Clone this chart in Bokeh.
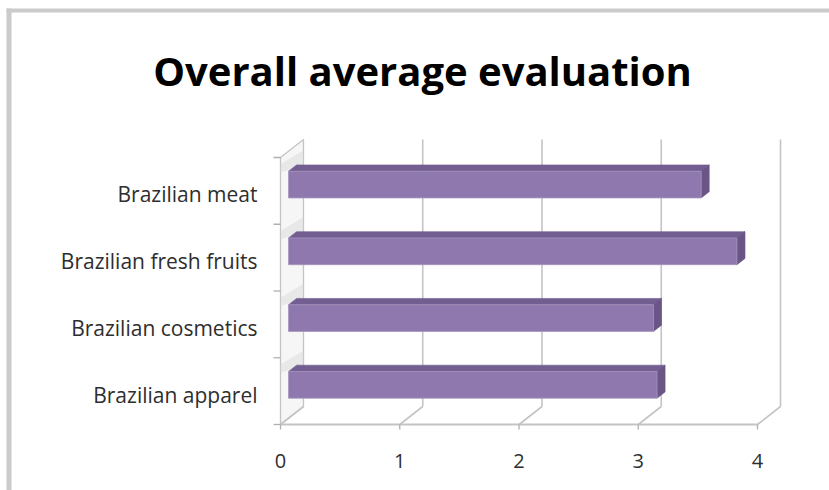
from bokeh.plotting import figure
from bokeh.models import Range1d, ColumnDataSource
from bokeh.embed import file_html
from bokeh.resources import INLINE
from bokeh.core.properties import value

# ---------------- data ----------------
categories = ["Brazilian apparel", "Brazilian cosmetics", "Brazilian fresh fruits", "Brazilian meat"]
values = [3.09, 3.06, 3.76, 3.46]
x_ticks = [0, 1, 2, 3, 4]
x_tick_labels = ["0", "1", "2", "3", "4"]
title_text = "Overall average evaluation"

# ---------------- geometry ----------------
W, H = 829, 490
X0_PX, UX = 280.0, 119.25     # pixel of value 0 on front plane, pixels per unit
Y0_PX, UY = 424.0, 66.75      # pixel of floor on front plane, pixels per category
OX, OY = 23.0 / UX, 18.0 / UY  # oblique depth offset in data units
D0, D1 = 0.35, 0.70            # bar depth (fraction of full depth)
HALF = 0.2                     # half bar thickness (category units)
N = len(categories)
XMAX = x_ticks[-1]

p = figure(width=W, height=H, output_backend="svg", toolbar_location=None,
           x_range=Range1d(-X0_PX / UX, (W - X0_PX) / UX),
           y_range=Range1d(-(H - Y0_PX) / UY, Y0_PX / UY),
           min_border=0, min_border_left=0, min_border_right=0,
           min_border_top=0, min_border_bottom=0)
p.xaxis.visible = False
p.yaxis.visible = False
p.grid.visible = False
p.outline_line_color = None
p.background_fill_color = "white"
p.border_fill_color = "white"

def px_x(px):
    return (px - X0_PX) / UX

def px_y(py):
    return (Y0_PX - py) / UY

# ---------------- outer chart border (top and left visible) ----------------
p.quad(left=[px_x(6)], right=[px_x(W + 5)], bottom=[px_y(12)], top=[px_y(8)],
       fill_color="#cbcbcb", line_color=None)
p.quad(left=[px_x(6)], right=[px_x(11)], bottom=[px_y(H + 5)], top=[px_y(8)],
       fill_color="#cbcbcb", line_color=None)

grid_col = "#c4c4c4"

# ---------------- left wall ----------------
p.patch([0, OX, OX, 0], [0, OY, N + OY, N], fill_color="#f6f6f6",
        line_color=grid_col, line_width=1.3)

# ---------------- back wall gridlines ----------------
gx = [t + OX for t in x_ticks[1:]]
p.segment(x0=gx, y0=[OY] * len(gx), x1=gx, y1=[N + OY] * len(gx),
          line_color=grid_col, line_width=1.6)

# ---------------- floor ----------------
p.segment(x0=x_ticks, y0=[0] * len(x_ticks),
          x1=[t + OX for t in x_ticks], y1=[OY] * len(x_ticks),
          line_color=grid_col, line_width=1.6)
p.segment(x0=[0], y0=[0], x1=[XMAX], y1=[0], line_color=grid_col, line_width=1.8)

# ticks below floor
p.segment(x0=x_ticks, y0=[0] * len(x_ticks), x1=x_ticks,
          y1=[-5.0 / UY] * len(x_ticks), line_color="#b0b0b0", line_width=1.3)
# ticks on left wall
bounds = list(range(N + 1))
p.segment(x0=[-7.0 / UX] * len(bounds), y0=bounds, x1=[0] * len(bounds), y1=bounds,
          line_color="#b0b0b0", line_width=1.3)

# ---------------- shadows on the left wall ----------------
for i in range(N):
    c = i + 0.5
    t = c + HALF
    p.patch([0, OX, OX, 0],
            [t + D0 * OY - 0.02, t + D1 * OY, t + D1 * OY + 0.22, t + 0.2],
            fill_color="#d8d8d8", fill_alpha=0.45, line_color=None)

# ---------------- bars ----------------
dd = (D1 - D0) * OY
front = dict(left=[], right=[], bottom=[], top=[])
top_xs, top_ys, side_xs, side_ys = [], [], [], []
for i, v in enumerate(values):
    c = i + 0.5
    b0 = c - HALF + D0 * OY
    t0 = c + HALF + D0 * OY
    l0 = D0 * OX
    r0 = v + D0 * OX
    r1 = v + D1 * OX
    front["left"].append(l0)
    front["right"].append(r0)
    front["bottom"].append(b0)
    front["top"].append(t0)
    top_xs.append([l0, r0, r1, D1 * OX])
    top_ys.append([t0, t0, t0 + dd, t0 + dd])
    side_xs.append([r0, r1, r1, r0])
    side_ys.append([b0, b0 + dd, t0 + dd, t0])

p.patches(top_xs, top_ys, fill_color="#735e92", line_color="#6f5a8e", line_width=0.6)
p.patches(side_xs, side_ys, fill_color="#6a5587", line_color="#655083", line_width=0.6)
p.quad(source=ColumnDataSource(front), left="left", right="right", bottom="bottom", top="top",
       fill_color="#8f78ae", line_color="#a493bf", line_width=0.8)

# ---------------- texts ----------------
# category labels
p.text(x=[-OX] * N, y=[i + 0.5 - 3.5 / UY for i in range(N)], text=categories,
       text_font=value("Open Sans"), text_font_size="21px", text_color="#2e2e2e",
       text_align="right", text_baseline="alphabetic")
# value tick labels
p.text(x=x_ticks, y=[-36.0 / UY] * len(x_ticks), text=x_tick_labels,
       text_font=value("Open Sans"), text_font_size="20px", text_color="#2e2e2e",
       text_align="center", text_baseline="alphabetic")
# title
p.text(x=[px_x(422)], y=[px_y(70)], text=[title_text],
       text_font=value("Open Sans"), text_font_style="bold", text_font_size="40px",
       text_color="#000000", text_align="center", text_baseline="alphabetic")

open("out.html", "w").write(file_html(p, INLINE))
